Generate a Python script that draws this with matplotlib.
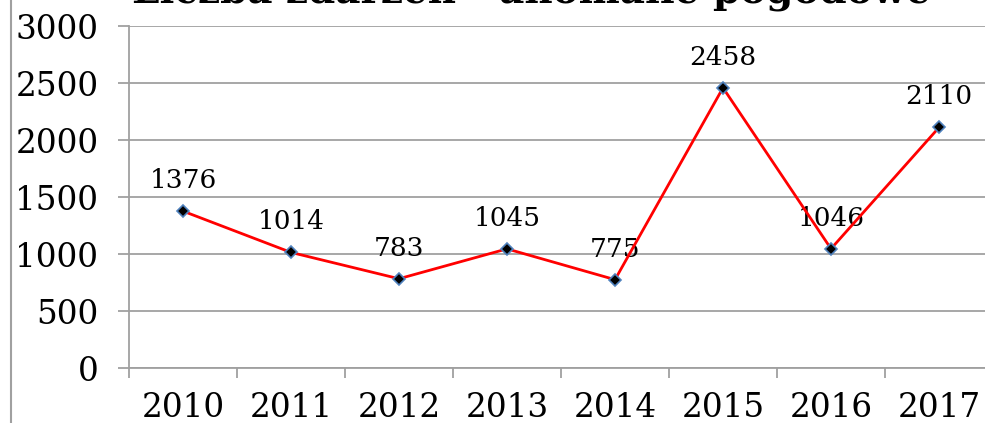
import matplotlib
matplotlib.use("Agg")
import matplotlib.pyplot as plt
from matplotlib.lines import Line2D

years = ["2010", "2011", "2012", "2013", "2014", "2015", "2016", "2017"]
values = [1376, 1014, 783, 1045, 775, 2458, 1046, 2110]
yticks = [0, 500, 1000, 1500, 2000, 2500, 3000]
title = "Liczba zdarzeń - anomalie pogodowe"

plt.rcParams['font.family'] = ['DejaVu Serif']

W, H = 985, 423
fig = plt.figure(figsize=(W / 100, H / 100), dpi=100)
ax = fig.add_axes([129 / W, 55 / H, 864 / W, 342 / H])

grid_c = '#a0a0a0'
x = list(range(len(years)))
ax.plot(x, values, color='#ff0000', lw=2, zorder=4,
        marker='D', markersize=6.5, markerfacecolor='black',
        markeredgecolor='#4f81bd', markeredgewidth=1.2)
for xi, v in zip(x, values):
    ax.annotate(str(v), (xi, v), xytext=(0, 13), textcoords='offset points',
                ha='center', va='bottom', fontsize=19, color='black', zorder=3)

ax.set_xlim(-0.5, len(years) - 0.5)
ax.set_ylim(0, 3000)
ax.set_yticks(yticks)
ax.set_yticklabels([str(t) for t in yticks], fontsize=23.5)
ax.yaxis.grid(True, color=grid_c, lw=1.3)
ax.set_axisbelow(True)
ax.tick_params(axis='y', length=8, width=1.3, color=grid_c, pad=14)

ax.set_xticks(x)
ax.set_xticklabels(years, fontsize=23.5)
ax.set_xticks([i - 0.5 for i in range(len(years) + 1)], minor=True)
ax.tick_params(axis='x', which='major', length=0, pad=17)
ax.tick_params(axis='x', which='minor', length=7, width=1.3, color=grid_c)

for s in ['top', 'right']:
    ax.spines[s].set_visible(False)
for s in ['left', 'bottom']:
    ax.spines[s].set_color(grid_c)
    ax.spines[s].set_linewidth(1.3)

fig.text(531 / W, 1 - 3 / H, title, ha='center', va='baseline',
         fontsize=28, fontweight='bold')
fig.add_artist(Line2D([11 / W, 11 / W], [0, 1], color=grid_c, lw=1.5,
                      transform=fig.transFigure))

fig.savefig('out.png', dpi=100)
